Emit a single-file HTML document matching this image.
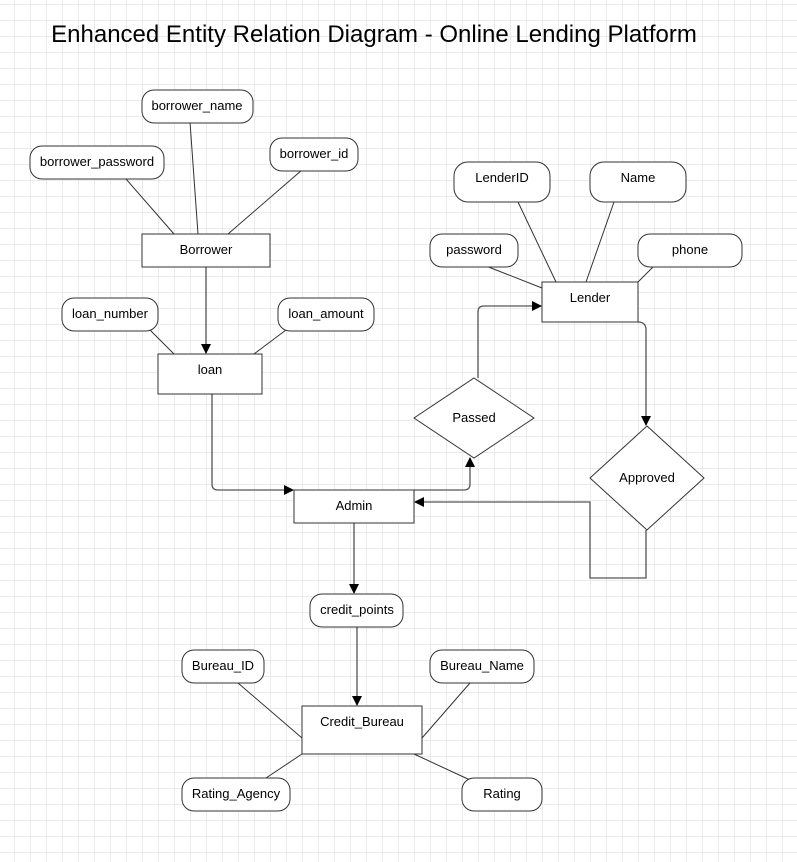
<!DOCTYPE html>
<html><head><style>
body{margin:0;}
svg{display:block;}
text{font-family:"Liberation Sans",sans-serif;font-size:13px;fill:#000;text-anchor:middle;}
</style></head><body>
<svg width="797" height="862" xmlns="http://www.w3.org/2000/svg">
<defs>
<pattern id="g" x="14" y="4" width="16" height="16" patternUnits="userSpaceOnUse">
<path d="M0 0H16M0 0V16" stroke="#e4e4e4" stroke-width="1.5" fill="none"/>
</pattern>
<marker id="a" markerWidth="10" markerHeight="10" refX="9" refY="5" orient="auto" markerUnits="userSpaceOnUse">
<path d="M0 0L10 5L0 10z" fill="#000"/>
</marker>
</defs>
<rect width="797" height="862" fill="#fff"/>
<rect width="797" height="862" fill="url(#g)"/>
<text x="374" y="42" style="font-size:24px">Enhanced Entity Relation Diagram - Online Lending Platform</text>
<g stroke="#333" stroke-width="1" fill="none">
<!-- borrower attrs -->
<line x1="190" y1="122" x2="198" y2="234"/>
<line x1="126" y1="179" x2="174" y2="234"/>
<line x1="302" y1="170" x2="228" y2="234"/>
<line x1="150" y1="330" x2="174" y2="354"/>
<line x1="286" y1="330" x2="254" y2="354"/>
<!-- lender attrs -->
<line x1="518" y1="202" x2="556" y2="282"/>
<line x1="614" y1="202" x2="586" y2="282"/>
<line x1="486" y1="266" x2="542" y2="288"/>
<line x1="654" y1="266" x2="638" y2="282"/>
<!-- bureau -->
<line x1="238" y1="683" x2="302" y2="738"/>
<line x1="470" y1="683" x2="422" y2="738"/>
<line x1="266" y1="778" x2="302" y2="754"/>
<line x1="470" y1="780" x2="414" y2="754"/>
</g>
<g stroke="#555" stroke-width="1.3" fill="none">
<line x1="206" y1="267" x2="206" y2="353" marker-end="url(#a)"/>
<path d="M212 394V484Q212 490 218 490H293" marker-end="url(#a)"/>
<path d="M414 490H464Q470 490 470 484V458" marker-end="url(#a)"/>
<path d="M478 378V312Q478 306 484 306H541" marker-end="url(#a)"/>
<path d="M638 322Q646 322 646 330V425" marker-end="url(#a)"/>
<path d="M646 530V578H590V502H415" marker-end="url(#a)"/>
<line x1="354" y1="523" x2="354" y2="593" marker-end="url(#a)"/>
<line x1="357" y1="627" x2="357" y2="705" marker-end="url(#a)"/>
</g>
<g stroke="#333" stroke-width="1" fill="#fff">
<rect x="142" y="90" width="111" height="33" rx="12"/>
<rect x="30" y="146" width="134" height="33" rx="12"/>
<rect x="270" y="138" width="88" height="33" rx="12"/>
<rect x="142" y="234" width="128" height="33"/>
<rect x="62" y="298" width="96" height="33" rx="12"/>
<rect x="278" y="298" width="96" height="33" rx="12"/>
<rect x="158" y="354" width="104" height="40"/>
<rect x="454" y="162" width="96" height="40" rx="14"/>
<rect x="590" y="162" width="96" height="40" rx="14"/>
<rect x="430" y="234" width="88" height="33" rx="12"/>
<rect x="638" y="234" width="104" height="33" rx="12"/>
<rect x="542" y="282" width="96" height="40"/>
<path d="M474 378L534 418L474 458L414 418Z"/>
<path d="M647 426L704 478L647 530L590 478Z"/>
<rect x="294" y="490" width="120" height="33"/>
<rect x="310" y="594" width="93" height="33" rx="12"/>
<rect x="182" y="650" width="82" height="33" rx="12"/>
<rect x="430" y="650" width="104" height="33" rx="12"/>
<rect x="302" y="706" width="120" height="48"/>
<rect x="182" y="778" width="108" height="33" rx="12"/>
<rect x="462" y="778" width="80" height="33" rx="12"/>
</g>
<text x="197" y="110">borrower_name</text>
<text x="97" y="166">borrower_password</text>
<text x="314" y="158">borrower_id</text>
<text x="206" y="254">Borrower</text>
<text x="110" y="318">loan_number</text>
<text x="326" y="318">loan_amount</text>
<text x="210" y="374">loan</text>
<text x="502" y="182">LenderID</text>
<text x="638" y="182">Name</text>
<text x="474" y="254">password</text>
<text x="690" y="254">phone</text>
<text x="590" y="302">Lender</text>
<text x="474" y="422">Passed</text>
<text x="647" y="482">Approved</text>
<text x="354" y="510">Admin</text>
<text x="357" y="614">credit_points</text>
<text x="223" y="670">Bureau_ID</text>
<text x="482" y="670">Bureau_Name</text>
<text x="362" y="726">Credit_Bureau</text>
<text x="236" y="798">Rating_Agency</text>
<text x="502" y="798">Rating</text>
</svg>
</body></html>
